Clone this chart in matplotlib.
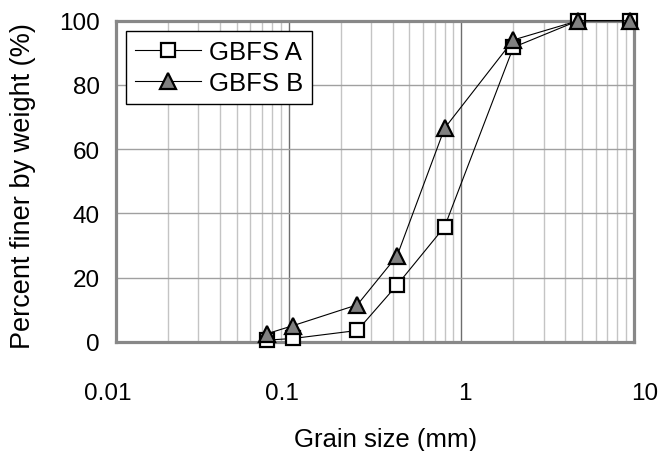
import matplotlib
matplotlib.use("Agg")
import matplotlib.pyplot as plt
import matplotlib.transforms as mtransforms
from matplotlib.ticker import LogLocator, FixedLocator, NullFormatter

plt.rcParams['font.family'] = ['Liberation Sans', 'DejaVu Sans']

grain_size = [0.075, 0.106, 0.25, 0.425, 0.8, 2.0, 4.75, 9.5]
gbfs_a = [0.5, 1.0, 3.5, 17.7, 35.8, 91.7, 100, 100]
gbfs_b = [2.5, 5.0, 11.5, 26.8, 66.5, 94.0, 100, 100]
x_ticks = [0.01, 0.1, 1, 10]
x_tick_labels = ["0.01", "0.1", "1", "10"]
y_ticks = [0, 20, 40, 60, 80, 100]

fig = plt.figure(figsize=(6.6, 4.52), dpi=100)
W, H = 660, 452
left, right, top, bottom = 116, 634, 21.7, 342.7
ax = fig.add_axes([left / W, 1 - bottom / H, (right - left) / W, (bottom - top) / H])

ax.set_xscale('log')
ax.set_xlim(0.01, 10)
ax.set_ylim(0, 100)

ax.xaxis.set_major_locator(FixedLocator(x_ticks))
ax.set_xticklabels(x_tick_labels)
ax.xaxis.set_minor_locator(LogLocator(base=10, subs=range(2, 10), numticks=20))
ax.xaxis.set_minor_formatter(NullFormatter())
ax.set_yticks(y_ticks)

ax.grid(True, which='minor', axis='x', color='#c4c4c4', linewidth=1.0)
ax.grid(True, which='major', axis='x', color='#6e6e6e', linewidth=1.0)
ax.grid(True, which='major', axis='y', color='#a0a0a0', linewidth=1.0)
ax.set_axisbelow(True)

ax.tick_params(axis='both', which='both', length=0)
ax.tick_params(axis='x', which='major', pad=29, labelsize=17.5)
ax.tick_params(axis='y', which='major', pad=11.5, labelsize=17.5)

# Excel-like spread of the x tick labels
label_shift_px = [-8.5, -6.5, 4, 11]
for lab, dx in zip(ax.get_xticklabels(), label_shift_px):
    lab.set_transform(lab.get_transform() + mtransforms.ScaledTranslation(dx / 100, 0, fig.dpi_scale_trans))

for sp in ax.spines.values():
    sp.set_color('#888888')
    sp.set_linewidth(2.3)

ax.plot(grain_size, gbfs_a, color='black', linewidth=0.8, marker='s',
        markersize=10.5, markerfacecolor='white', markeredgecolor='black',
        markeredgewidth=1.6, label='GBFS A', clip_on=False, zorder=3)
ax.plot(grain_size, gbfs_b, color='black', linewidth=0.8, marker='^',
        markersize=11, markerfacecolor='#808080', markeredgecolor='black',
        markeredgewidth=1.6, label='GBFS B', clip_on=False, zorder=4)

leg = ax.legend(loc='upper left', bbox_to_anchor=((125.7 - left) / (right - left), (bottom - 31.7) / (bottom - top)),
                borderaxespad=0, frameon=True, fancybox=False, shadow=False,
                fontsize=18.5, handlelength=2.6, handletextpad=0.3,
                labelspacing=0.3, borderpad=0.35, numpoints=1)
leg.get_frame().set_edgecolor('black')
leg.get_frame().set_linewidth(1.0)
leg.get_frame().set_alpha(1)

ax.set_xlabel('Grain size (mm)', fontsize=18.5)
ax.xaxis.set_label_coords((386 - left) / (right - left), (bottom - 428) / (bottom - top))
ax.set_ylabel('Percent finer by weight (%)', fontsize=19.5, va='center')
ax.yaxis.set_label_coords((23 - left) / (right - left), (bottom - 186.5) / (bottom - top))

fig.savefig('out.png', dpi=100)
